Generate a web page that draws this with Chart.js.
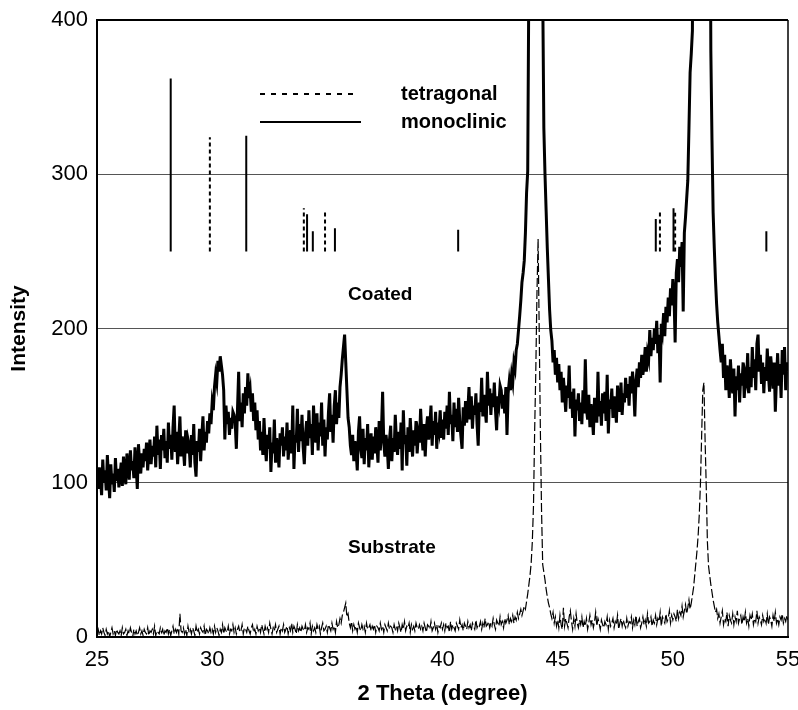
<!DOCTYPE html>
<html>
<head>
<meta charset="utf-8">
<title>XRD pattern</title>
<script src="https://cdn.jsdelivr.net/npm/chart.js@4.4.1/dist/chart.umd.min.js"></script>
<style>
  html, body { margin: 0; padding: 0; background: #fff; }
  #wrap { width: 798px; height: 710px; }
</style>
</head>
<body>
<div id="wrap"><canvas id="xrd" width="798" height="710"></canvas></div>
<script>
// scan range: 25 to 55 degrees, one reading every 0.05 degree
const thetaStart = 25;
const thetaStep = 0.05;

// coated sample, one row per degree
const coated = [
  102,96,110,104,92,115,100,108,95,118,103,90,112,99,106,94,116,101,109,97,
  105,113,98,117,107,99,119,110,102,121,108,114,103,123,111,96,125,113,106,119,
  110,122,114,126,108,120,128,112,124,117,130,110,137,118,128,109,131,121,135,116,
  127,113,139,122,131,115,136,150,120,133,112,128,143,117,130,122,111,134,119,128,
  124,110,131,118,138,113,104,127,120,135,114,130,143,121,133,126,140,132,145,138,
  152,147,162,170,165,179,172,182,176,170,160,128,150,138,146,131,142,135,146,144,
  139,122,148,172,140,152,136,158,145,162,150,171,155,160,146,158,140,152,134,147,
  128,140,121,133,118,142,125,114,131,122,136,107,126,119,141,113,129,121,110,132,
  124,136,117,130,121,139,115,128,134,119,150,109,131,126,148,120,138,127,144,123,
  112,131,140,124,147,129,138,118,150,133,126,145,121,139,130,152,124,141,117,136,
  128,146,158,133,144,126,150,160,138,152,142,162,170,180,188,196,178,160,142,136,
  124,118,131,114,127,120,108,133,143,122,116,135,112,129,121,138,110,126,132,115,
  130,119,136,125,113,140,121,134,159,126,117,131,123,109,128,137,114,129,120,144,
  127,118,133,122,139,108,147,125,131,111,136,120,142,128,117,134,124,140,119,131,
  126,148,132,121,138,117,135,143,128,137,150,124,140,131,146,122,139,134,147,129,
  141,128,146,135,150,131,159,138,144,127,152,136,148,133,155,140,130,122,149,137,
  153,139,147,162,141,156,135,150,144,158,138,124,152,146,168,143,157,148,139,172,
  150,161,144,158,149,165,147,134,156,151,163,160,148,157,145,162,131,158,166,160,
  170,165,178,174,186,190,199,208,218,230,236,244,262,288,302,430,680,900,1000,1100,
  1150,1200,1250,1200,1100,900,650,420,330,300,276,252,232,212,199,192,178,186,170,181,
  165,177,160,172,152,168,158,146,163,155,176,148,159,142,161,130,154,147,158,140,
  152,138,160,145,180,148,141,157,136,151,144,131,155,147,139,172,143,153,137,158,
  145,159,140,170,132,154,148,161,142,156,150,139,163,151,146,165,144,158,152,168,
  155,164,150,169,158,172,161,143,166,174,162,178,168,183,170,176,188,172,184,180,
  199,182,194,186,200,190,205,184,196,165,203,198,210,195,214,204,220,208,226,215,
  232,222,191,236,245,230,253,240,256,211,262,272,284,296,330,366,378,393,700,900,
  1000,1100,1150,1200,1250,1200,1150,1100,1000,900,800,700,560,380,322,275,252,232,216,204,
  195,186,178,190,168,183,160,176,171,155,180,166,158,174,143,169,160,176,152,171,
  163,178,155,170,166,184,158,175,162,188,168,180,160,190,196,172,183,164,178,158,
  175,166,187,170,159,182,173,161,178,146,168,184,163,177,155,186,170,188,160,178,
  172
];

// bare substrate, same grid
const substrate = [
  3,5,1,4,2,6,3,1,5,2,4,0,3,6,2,4,1,5,3,2,
  4,1,6,2,3,5,1,4,2,6,3,0,5,2,4,1,3,6,2,4,
  1,5,3,2,6,1,4,3,5,2,7,1,4,3,2,6,3,5,1,4,
  3,6,2,5,1,4,7,2,5,3,6,2,15,4,3,6,2,5,1,7,
  3,5,2,6,4,1,7,3,5,2,6,4,3,7,1,5,4,2,6,3,
  5,2,7,3,6,4,1,5,3,8,2,6,4,3,7,2,5,4,8,3,
  6,2,5,7,3,4,8,2,6,5,3,7,4,2,6,8,3,5,2,7,
  4,6,3,8,5,2,7,4,6,3,9,5,2,6,4,8,3,5,7,2,
  6,4,8,3,5,7,2,6,4,9,3,7,5,2,8,4,6,3,7,5,
  4,8,3,6,5,9,2,7,4,6,3,8,5,7,2,6,9,4,5,7,
  3,8,6,4,9,5,7,3,10,6,8,12,9,14,16,19,22,13,15,9,
  6,10,4,8,5,7,3,9,6,4,8,5,7,3,9,5,6,8,4,7,
  5,8,3,7,6,4,9,5,7,3,8,6,4,9,5,7,6,3,8,5,
  7,4,9,6,3,8,5,10,4,7,6,9,3,8,5,7,4,9,6,5,
  8,5,7,4,9,6,3,8,7,5,10,4,6,9,5,8,3,7,6,9,
  5,8,4,9,6,7,3,10,5,8,6,4,9,7,5,11,6,8,4,9,
  7,5,10,6,8,4,9,7,5,11,6,8,7,10,5,9,6,12,7,8,
  10,6,9,7,12,8,5,11,9,7,13,8,10,6,12,9,11,14,8,12,
  10,14,9,13,11,16,12,15,18,14,17,20,18,23,28,34,40,48,62,85,
  133,172,222,258,197,133,82,47,42,37,31,26,22,19,15,12,16,9,13,7,
  11,6,14,8,5,19,7,12,9,6,13,17,10,5,12,7,15,9,6,11,
  8,13,6,10,7,12,5,9,14,8,11,6,10,16,7,12,9,5,11,8,
  6,10,8,13,5,11,7,9,12,6,10,8,14,5,9,12,7,11,8,6,
  12,7,10,9,13,6,11,8,14,7,10,12,6,9,13,8,11,7,15,9,
  10,13,7,11,9,14,8,12,10,16,7,13,11,9,15,10,12,17,9,14,
  11,15,13,10,18,12,16,14,20,13,17,21,15,19,24,18,22,27,32,40,
  48,56,66,80,100,130,160,165,128,98,62,46,40,34,29,24,20,16,18,12,
  15,9,13,17,8,12,10,16,7,14,11,9,15,8,13,10,17,9,12,14,
  8,13,10,16,9,12,7,14,11,15,8,12,10,17,9,13,11,8,14,10,
  12,9,15,8,13,11,7,14,10,16,9,12,8,13,11,15,9,12,10,14,
  11
];

// reference reflections, drawn as sticks rising from stickBase
const stickBase = 250;
const tetragonalTheta = [29.9, 33.98, 34.9, 49.44, 50.1];
const tetragonalHeight = [324, 278, 276, 276, 275];
const monoclinicTheta = [28.2, 31.48, 34.12, 34.37, 35.33, 40.68, 49.26, 50.03, 54.06];
const monoclinicHeight = [362, 325, 274, 263, 265, 264, 271, 278, 263];

const xTicks = [25, 30, 35, 40, 45, 50, 55];
const yTicks = [0, 100, 200, 300, 400];

const FONT = "'Liberation Sans', Arial, Helvetica, sans-serif";

function scan(values) {
  return values.map((v, i) => ({ x: +(thetaStart + i * thetaStep).toFixed(2), y: v }));
}

function sticks(thetas, heights) {
  const pts = [];
  thetas.forEach((t, i) => {
    pts.push({ x: t, y: stickBase });
    pts.push({ x: t, y: heights[i] });
    pts.push({ x: t, y: null });
  });
  return pts;
}

// key, sample names and the right-hand frame edge
const decorations = {
  id: "decorations",
  afterDatasetsDraw(chart) {
    const { ctx, chartArea, scales } = chart;
    const xs = scales.x, ys = scales.y;
    ctx.save();

    ctx.strokeStyle = "#000";
    ctx.lineWidth = 1.5;
    ctx.beginPath();
    ctx.moveTo(chartArea.right, chartArea.top);
    ctx.lineTo(chartArea.right, chartArea.bottom);
    ctx.stroke();

    const kx = chartArea.left + 163;
    const ky = chartArea.top + 74;
    ctx.lineWidth = 2;
    ctx.setLineDash([5, 6]);
    ctx.beginPath();
    ctx.moveTo(kx, ky);
    ctx.lineTo(kx + 98, ky);
    ctx.stroke();
    ctx.setLineDash([]);
    ctx.beginPath();
    ctx.moveTo(kx, ky + 28);
    ctx.lineTo(kx + 101, ky + 28);
    ctx.stroke();

    ctx.fillStyle = "#000";
    ctx.textBaseline = "middle";
    ctx.textAlign = "left";
    ctx.font = "bold 20px " + FONT;
    ctx.fillText("tetragonal", kx + 141, ky);
    ctx.fillText("monoclinic", kx + 141, ky + 28);

    ctx.font = "bold 19px " + FONT;
    ctx.fillText("Coated", xs.getPixelForValue(35.9), ys.getPixelForValue(222));
    ctx.fillText("Substrate", xs.getPixelForValue(35.9), ys.getPixelForValue(58));
    ctx.restore();
  }
};

new Chart(document.getElementById("xrd"), {
  type: "line",
  data: {
    datasets: [
      {
        label: "tetragonal",
        data: sticks(tetragonalTheta, tetragonalHeight),
        borderColor: "#000",
        borderWidth: 2,
        borderDash: [4, 3]
      },
      {
        label: "monoclinic",
        data: sticks(monoclinicTheta, monoclinicHeight),
        borderColor: "#000",
        borderWidth: 2
      },
      {
        label: "Coated",
        data: scan(coated),
        borderColor: "#000",
        borderWidth: 3
      },
      {
        label: "Substrate",
        data: scan(substrate),
        borderColor: "#000",
        borderWidth: 1.2,
        borderDash: [9, 3]
      }
    ]
  },
  options: {
    responsive: false,
    animation: false,
    devicePixelRatio: 1,
    spanGaps: false,
    layout: { padding: { top: 20, right: 10, left: 0, bottom: 0 } },
    elements: {
      point: { radius: 0, hoverRadius: 0 },
      line: { tension: 0, borderJoinStyle: "miter" }
    },
    plugins: {
      legend: { display: false },
      tooltip: { enabled: false }
    },
    scales: {
      x: {
        type: "linear",
        min: 25,
        max: 55,
        afterBuildTicks: (s) => { s.ticks = xTicks.map(v => ({ value: v })); },
        afterFit: (s) => { s.height = 73; s.paddingLeft = 0; s.paddingRight = 0; },
        grid: { display: false, drawTicks: false },
        border: { color: "#000", width: 2 },
        ticks: {
          color: "#000",
          padding: 10,
          font: { family: FONT, size: 22 }
        },
        title: {
          display: true,
          text: "2 Theta (degree)",
          color: "#000",
          padding: { top: 4, bottom: 3 },
          font: { family: FONT, size: 22, weight: "bold" }
        }
      },
      y: {
        min: 0,
        max: 400,
        afterBuildTicks: (s) => { s.ticks = yTicks.map(v => ({ value: v })); },
        afterFit: (s) => { s.width = 97; s.paddingTop = 0; s.paddingBottom = 0; },
        grid: {
          drawTicks: false,
          color: (c) => (c.tick && c.tick.value === 400 ? "#000" : "#555"),
          lineWidth: (c) => (c.tick && c.tick.value === 400 ? 2 : 1)
        },
        border: { color: "#000", width: 2 },
        ticks: {
          color: "#000",
          padding: 9,
          font: { family: FONT, size: 22 }
        },
        title: {
          display: true,
          text: "Intensity",
          color: "#000",
          padding: { top: 7, bottom: 0 },
          font: { family: FONT, size: 21, weight: "bold" }
        }
      }
    }
  },
  plugins: [decorations]
});
</script>
</body>
</html>
